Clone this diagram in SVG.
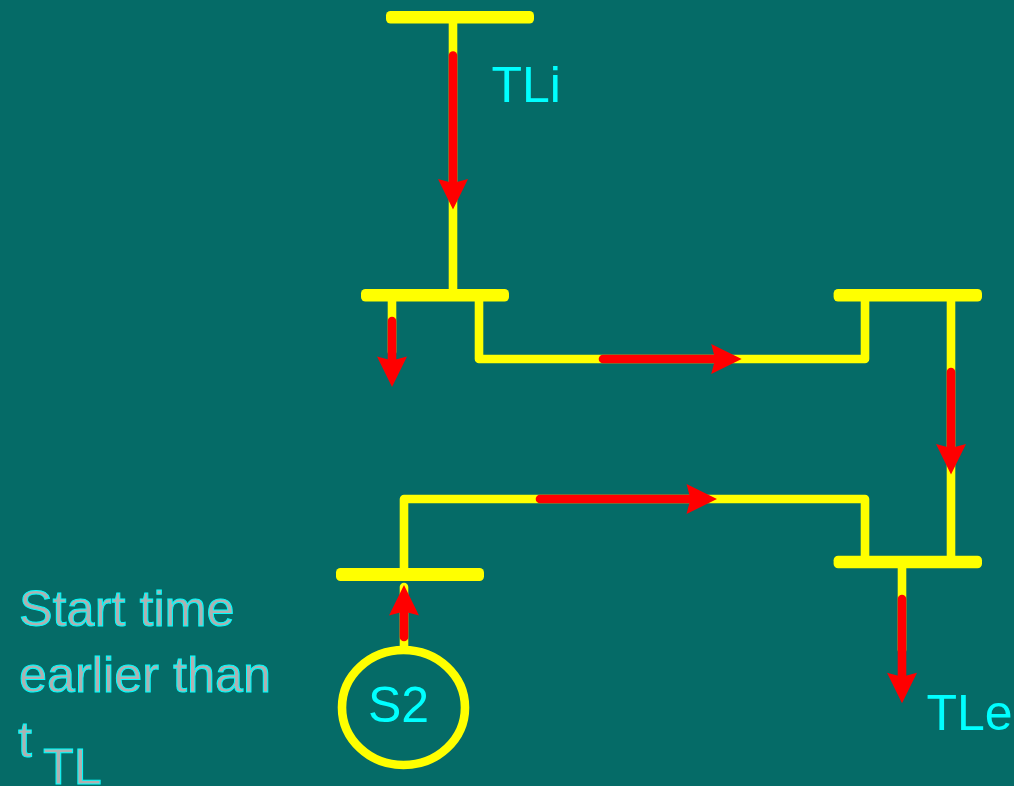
<svg xmlns="http://www.w3.org/2000/svg" width="1014" height="786" viewBox="0 0 1014 786">
<style>
.bus{fill:#ffff00}
.w{fill:none;stroke:#ffff00;stroke-width:8.6;stroke-linejoin:round;stroke-linecap:round}
.r{fill:none;stroke:#ff0000;stroke-width:8.6;stroke-linecap:round}
.h{fill:#ff0000}
text{font-family:"Liberation Sans",Arial,sans-serif;font-size:50px;fill:#00ffff}
.g{fill:#b0b0b0;stroke:#00ffff;stroke-width:1;font-size:50.4px}
</style>
<defs><path id="ah" class="h" d="M0 0L-15 -30.5L0 -26.5L15 -30.5Z"/></defs>
<rect width="1014" height="786" fill="#056b67"/>
<g id="connectors">
<path class="w" d="M453 17V295"/>
<path class="w" d="M392 295V352"/>
<path class="w" d="M479 295V359H865V295"/>
<path class="w" d="M951 295V562"/>
<path class="w" d="M404 574V499H865V562"/>
<path class="w" d="M902 562V650"/>
<path class="w" d="M404 587V648"/>
<path class="r" d="M453 55.5V190"/><use href="#ah" x="453" y="209.5"/>
<path class="r" d="M392 321V365"/><use href="#ah" x="392" y="387"/>
<path class="r" d="M603 359H720"/><use href="#ah" transform="translate(741.7 359) rotate(-90)"/>
<path class="r" d="M951 372V455"/><use href="#ah" x="951" y="474.5"/>
<path class="r" d="M540 499H695"/><use href="#ah" transform="translate(717 499) rotate(-90)"/>
<path class="r" d="M902 599V680"/><use href="#ah" x="902" y="703.3"/>
<path class="r" d="M404 637V605"/><use href="#ah" transform="translate(404 585) rotate(180)"/>
</g>
<g id="bus1"><rect class="bus" x="386" y="11" width="148" height="12.6" rx="4.5"/></g>
<g id="bus2"><rect class="bus" x="361" y="289" width="148" height="12.6" rx="4.5"/></g>
<g id="bus3"><rect class="bus" x="833.6" y="289" width="148.4" height="12.6" rx="4.5"/></g>
<g id="bus4"><rect class="bus" x="833.6" y="555.7" width="148.4" height="12.6" rx="4.5"/></g>
<g id="bus5"><rect class="bus" x="336" y="568" width="148" height="13" rx="4.5"/></g>
<g id="s2"><ellipse cx="403.5" cy="707.5" rx="61.5" ry="57.5" fill="none" stroke="#ffff00" stroke-width="8.6"/><text x="368" y="722">S2</text></g>
<g id="labels">
<text x="491.5" y="101.7">TLi</text>
<text x="926.5" y="730">TLe</text>
<text class="g" x="19" y="626">Start time</text>
<text class="g" x="19" y="692">earlier than</text>
<text class="g" x="18" y="757">t</text>
<text class="g" x="43" y="784">TL</text>
</g>
</svg>
